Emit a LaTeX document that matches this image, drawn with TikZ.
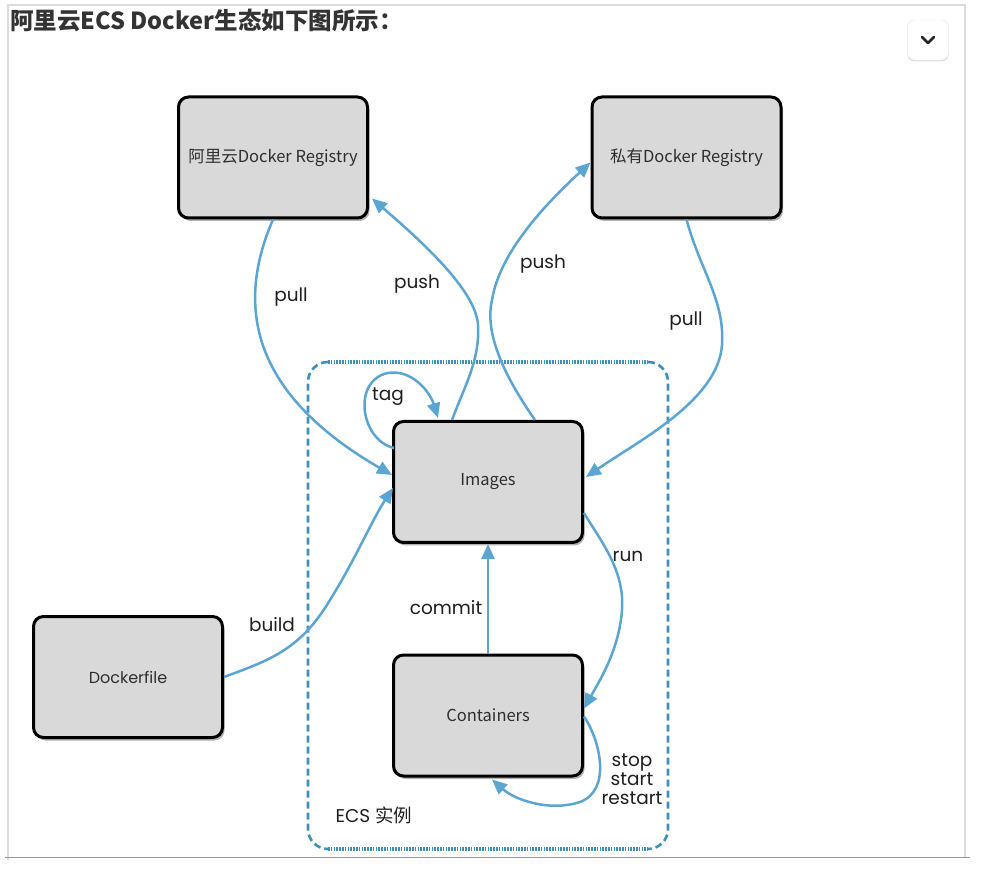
\documentclass[tikz,border=0pt]{standalone}
\usepackage{fontspec}
\setmainfont{Poppins}
\newfontfamily\cjk{Noto Sans CJK SC}
\usetikzlibrary{arrows.meta,shadows,calc}
\definecolor{arrowblue}{HTML}{5AA5D2}
\definecolor{ecsblue}{HTML}{3F90B8}
\definecolor{boxgray}{HTML}{D9D9D9}
\definecolor{titlegray}{HTML}{333333}
\begin{document}
\begin{tikzpicture}[x=1pt,y=-1pt,
  box/.style={draw=black, line width=3pt, rounded corners=10pt, fill=boxgray,
    minimum width=189pt, minimum height=121pt,
    drop shadow={shadow xshift=2pt, shadow yshift=-3pt, opacity=0.3, fill=black},
    font=\cjk\fontsize{16.5}{18}\selectfont, text=black!82},
  conn/.style={draw=arrowblue, line width=2.5pt, -{Triangle[length=15pt,width=13pt]}},
  lbl/.style={font=\fontsize{18.5}{19}\selectfont, text=black!88, align=center, inner sep=0pt}]
\useasboundingbox (0,0) rectangle (986,874);
\fill[white] (0,0) rectangle (986,874);
% page frame
\draw[black!14, line width=1.2pt] (8,860) -- (8,5) -- (965,5) -- (965,857);
\draw[black!40, line width=1.2pt] (5,857.5) -- (970,857.5);
% title
\node[anchor=west, inner sep=0pt, text=titlegray, font=\cjk\bfseries\fontsize{23.5}{25}\selectfont] (title) at (10,21) {阿里云ECS Docker生态如下图所示：};
% button
\node[draw=black!12, fill=white, rounded corners=7pt, minimum width=41pt, minimum height=40pt,
  drop shadow={shadow xshift=0pt, shadow yshift=-1.5pt, opacity=0.12, fill=black}] (btn) at (928,40) {};
\draw[black!85, line width=2.6pt, line cap=round, line join=round] ($(btn.center)+(-6,-3)$) -- ($(btn.center)+(0,3)$) -- ($(btn.center)+(6,-3)$);
% ECS dashed region
\draw[ecsblue, line width=3.2pt, dash pattern=on 1.6pt off 1.2pt] (328,362) -- (648,362);
\draw[ecsblue, line width=3.2pt, dash pattern=on 1.6pt off 1.2pt] (328,849) -- (648,849);
\draw[ecsblue, line width=2.6pt, dash pattern=on 7pt off 4pt]
  (328,362) arc[start angle=270, end angle=180, radius=20] -- (308,829) arc[start angle=180, end angle=90, radius=20];
\draw[ecsblue, line width=2.6pt, dash pattern=on 7pt off 4pt]
  (648,362) arc[start angle=-90, end angle=0, radius=20] -- (668,829) arc[start angle=0, end angle=90, radius=20];
% boxes
\node[box] (ali) at (273,157.5) {阿里云Docker Registry};
\node[box] (pri) at (686.5,157.5) {私有Docker Registry};
\node[box] (img) at (488,482) {Images};
\node[box] (con) at (488,715.5) {Containers};
\node[box, font=\fontsize{16}{18}\selectfont] (df) at (128,677) {Dockerfile};
% connectors
\draw[conn] (ali.south) .. controls (238,300) and (245,390) .. ($(img.west)+(0,-7)$);
\draw[conn] ($(img.north)+(-36,0)$) .. controls (465,385) and (480,360) .. (478,325)
  .. controls (476,290) and (420,240) .. ($(ali.south east)+(3,-21)$);
\draw[conn] ($(img.north)+(47,0)$) .. controls (500,370) and (485,330) .. (492,300)
  .. controls (500,250) and (550,200) .. ($(pri.west)+(0,5)$);
\draw[conn] (pri.south) .. controls (700,270) and (725,300) .. (722,345)
  .. controls (718,400) and (640,440) .. ($(img.east)+(2,-5)$);
\draw[conn] ($(img.west)+(2,-34)$) .. controls (360,440) and (352,380) .. (388,373)
  .. controls (412,369) and (430,392) .. ($(img.north)+(-50,-2)$);
\draw[conn] (df.east) .. controls (270,660) and (300,650) .. (330,600)
  .. controls (355,560) and (372,520) .. ($(img.west)+(1,6)$);
\draw[conn] (con.north) -- (img.south);
\draw[conn] ($(img.east)+(0,31)$) .. controls (600,540) and (625,570) .. (622,610)
  .. controls (619,650) and (600,680) .. ($(con.east)+(0,-7)$);
\draw[conn] ($(con.east)+(0,1)$) .. controls (600,740) and (612,790) .. (580,802)
  .. controls (550,812) and (515,800) .. ($(con.south)+(4,2)$);
% labels
\node[lbl] (lpull1) at (291,297) {pull};
\node[lbl] (lpush1) at (417,284) {push};
\node[lbl] (ltag) at (388,397) {tag};
\node[lbl] (lpush2) at (543,264) {push};
\node[lbl] (lpull2) at (686,321) {pull};
\node[lbl] (lrun) at (628,556) {run};
\node[lbl] (lcommit) at (446,608) {commit};
\node[lbl] (lbuild) at (272,625) {build};
\node[lbl] (lstop) at (632,779) {stop\\start\\restart};
\node[lbl] (lecs) at (374,815) {ECS {\cjk 实例}};
\end{tikzpicture}
\end{document}
